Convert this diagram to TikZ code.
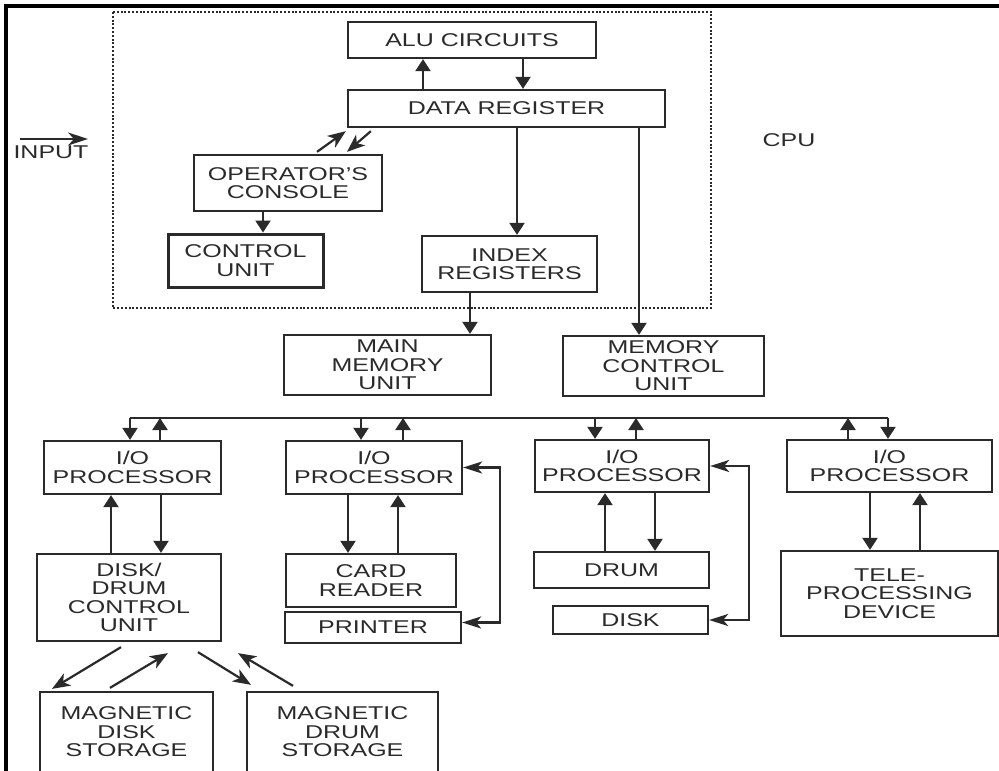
\documentclass[tikz,border=0pt]{standalone}
\usepackage{fontspec}
\newfontfamily\lbl[FakeStretch=1.35]{Liberation Sans}
\usetikzlibrary{arrows.meta,calc}
\definecolor{ink}{HTML}{2A2A2A}
\begin{document}
\begin{tikzpicture}[x=1pt,y=-1pt,
  box/.style={draw=ink, line width=2.3pt, inner sep=0pt, align=center, text=ink,
    font=\lbl\fontsize{18.5}{18.5}\selectfont},
  sz/.style 2 args={minimum width=#1pt, minimum height=#2pt},
  lbltext/.style={inner sep=0pt, text=ink, font=\lbl\fontsize{18.5}{18.5}\selectfont},
  arr/.style={draw=ink, line width=2.3pt, -{Triangle[length=12pt,width=15pt]}},
  arrS/.style={draw=ink, line width=2.2pt, -{Stealth[length=18pt,width=14pt,inset=5pt]}},
  loop/.style={draw=ink, line width=2.2pt, {Stealth[length=19pt,width=12pt,inset=5pt]}-{Stealth[length=19pt,width=12pt,inset=5pt]}},
  frame/.style={draw=black, line width=4pt},
  cpubox/.style={draw=ink, line width=2.6pt, dash pattern=on 2pt off 1.8pt}]
\useasboundingbox (0,0) rectangle (999,771);
\clip (0,0) rectangle (999,771);
\fill[white] (0,0) rectangle (999,771);

% outer frame (top and left edges)
\coordinate (ftl) at (6,6);
\coordinate (ftr) at (1002,6);
\coordinate (fbl) at (6,775);
\draw[frame] (ftr) -- (ftl) -- (fbl);

% CPU dotted region
\coordinate (cpuA) at (113,12);
\coordinate (cpuB) at (711,308);
\draw[cpubox] (cpuA) rectangle (cpuB);
\node[lbltext] (cpu) at (789,140) {CPU};

% INPUT
\node[lbltext] (inp) at (51,152) {INPUT};
\coordinate (inS) at (20,139);
\coordinate (inE) at (88,139);
\draw[draw=ink, line width=1.7pt, -{Stealth[length=20pt,width=13pt,inset=6pt]}] (inS) -- (inE);

% CPU boxes
\node[box, sz={248}{36}] (alu) at (472,40) {ALU CIRCUITS};
\node[box, sz={317}{37}] (dr) at (506.5,108.5) {DATA REGISTER};
\node[box, sz={188}{56}] (oc) at (288,183) {OPERATOR’S\\CONSOLE};
\node[box, sz={155}{53}, line width=3pt] (cu) at (245.5,260.5) {CONTROL\\UNIT};
\node[box, sz={175}{56}] (ir) at (509.5,264) {INDEX\\REGISTERS};

% memory
\node[box, sz={207}{60}] (mm) at (387.5,365) {MAIN\\MEMORY\\UNIT};
\node[box, sz={201}{60}] (mc) at (663.5,366) {MEMORY\\CONTROL\\UNIT};

% I/O processors
\node[box, sz={177}{53}] (iop1) at (132.5,467.5) {I/O\\PROCESSOR};
\node[box, sz={176}{53}] (iop2) at (374,467.5) {I/O\\PROCESSOR};
\node[box, sz={174}{52}] (iop3) at (622,466) {I/O\\PROCESSOR};
\node[box, sz={205}{52}] (iop4) at (889.5,466) {I/O\\PROCESSOR};

% devices
\node[box, sz={184}{87}] (ddcu) at (129,597.5) {DISK/\\DRUM\\CONTROL\\UNIT};
\node[box, sz={170}{53}] (cr) at (371,580.5) {CARD\\READER};
\node[box, sz={176}{31}] (pr) at (373,627.5) {PRINTER};
\node[box, sz={175}{36}] (drum) at (621.5,570) {DRUM};
\node[box, sz={155}{28}] (disk) at (630.5,620) {DISK};
\node[box, sz={217}{85}] (tpd) at (889.5,593.5) {TELE-\\PROCESSING\\DEVICE};
\node[box, sz={173}{80}] (mds) at (126.5,732) {MAGNETIC\\DISK\\STORAGE};
\node[box, sz={191}{80}] (mdr) at (342.5,732) {MAGNETIC\\DRUM\\STORAGE};

% CPU connectors
\draw[arr] (dr.north -| 423,0) -- (alu.south -| 423,0);
\draw[arr] (alu.south -| 523,0) -- (dr.north -| 523,0);
\draw[arr] (dr.south -| 517,0) -- (ir.north -| 517,0);
\draw[arr] (dr.south -| 639,0) -- (mc.north -| 639,0);
\draw[arr] (ir.south -| 470,0) -- (mm.north -| 470,0);
\draw[arr] (oc.south -| 263,0) -- (cu.north -| 263,0);
\draw[arrS] ($(oc.north)+(29,-2)$) -- ($(dr.south west)+(-1,3)$);
\draw[arrS] ($(dr.south west)+(24,3)$) -- ($(oc.north)+(59,-2)$);

% bus
\coordinate (busL) at (130,418);
\coordinate (busR) at (888,418);
\draw[draw=ink, line width=2.3pt] (busL) -- (busR);
\draw[arr] (busL) -- (iop1.north -| busL);
\draw[arr] (iop1.north -| 160,0) -- (160,418);
\draw[arr] (361,418) -- (iop2.north -| 361,0);
\draw[arr] (iop2.north -| 403,0) -- (403,418);
\draw[arr] (595,418) -- (iop3.north -| 595,0);
\draw[arr] (iop3.north -| 636,0) -- (636,418);
\draw[arr] (iop4.north -| 848,0) -- (848,418);
\draw[arr] (busR) -- (iop4.north -| busR);

% I/O processor 1
\draw[arr] (ddcu.north -| 111,0) -- (iop1.south -| 111,0);
\draw[arr] (iop1.south -| 161,0) -- (ddcu.north -| 161,0);
% I/O processor 2
\draw[arr] (iop2.south -| 348,0) -- (cr.north -| 348,0);
\draw[arr] (cr.north -| 398,0) -- (iop2.south -| 398,0);
\draw[loop] (iop2.east) -- (iop2.east -| 500,0) |- ($(pr.east)+(0,-5)$);
% I/O processor 3
\draw[arr] (drum.north -| 605,0) -- (iop3.south -| 605,0);
\draw[arr] (iop3.south -| 655,0) -- (drum.north -| 655,0);
\draw[loop] (iop3.east) -- (iop3.east -| 749,0) |- (disk.east);
% I/O processor 4
\draw[arr] (iop4.south -| 870,0) -- (tpd.north -| 870,0);
\draw[arr] (tpd.north -| 920,0) -- (iop4.south -| 920,0);

% disk/drum control unit to storage
\draw[arrS] ($(ddcu.south)+(-8,5)$) -- ($(mds.north)+(-74.5,-2)$);
\draw[arrS] ($(mds.north)+(-16.5,-3)$) -- ($(ddcu.south)+(39,11)$);
\draw[arrS] ($(ddcu.south)+(69,10)$) -- ($(mdr.north)+(-91.5,-6)$);
\draw[arrS] ($(mdr.north)+(-49.5,-5)$) -- ($(ddcu.south)+(109,11)$);
\end{tikzpicture}
\end{document}
